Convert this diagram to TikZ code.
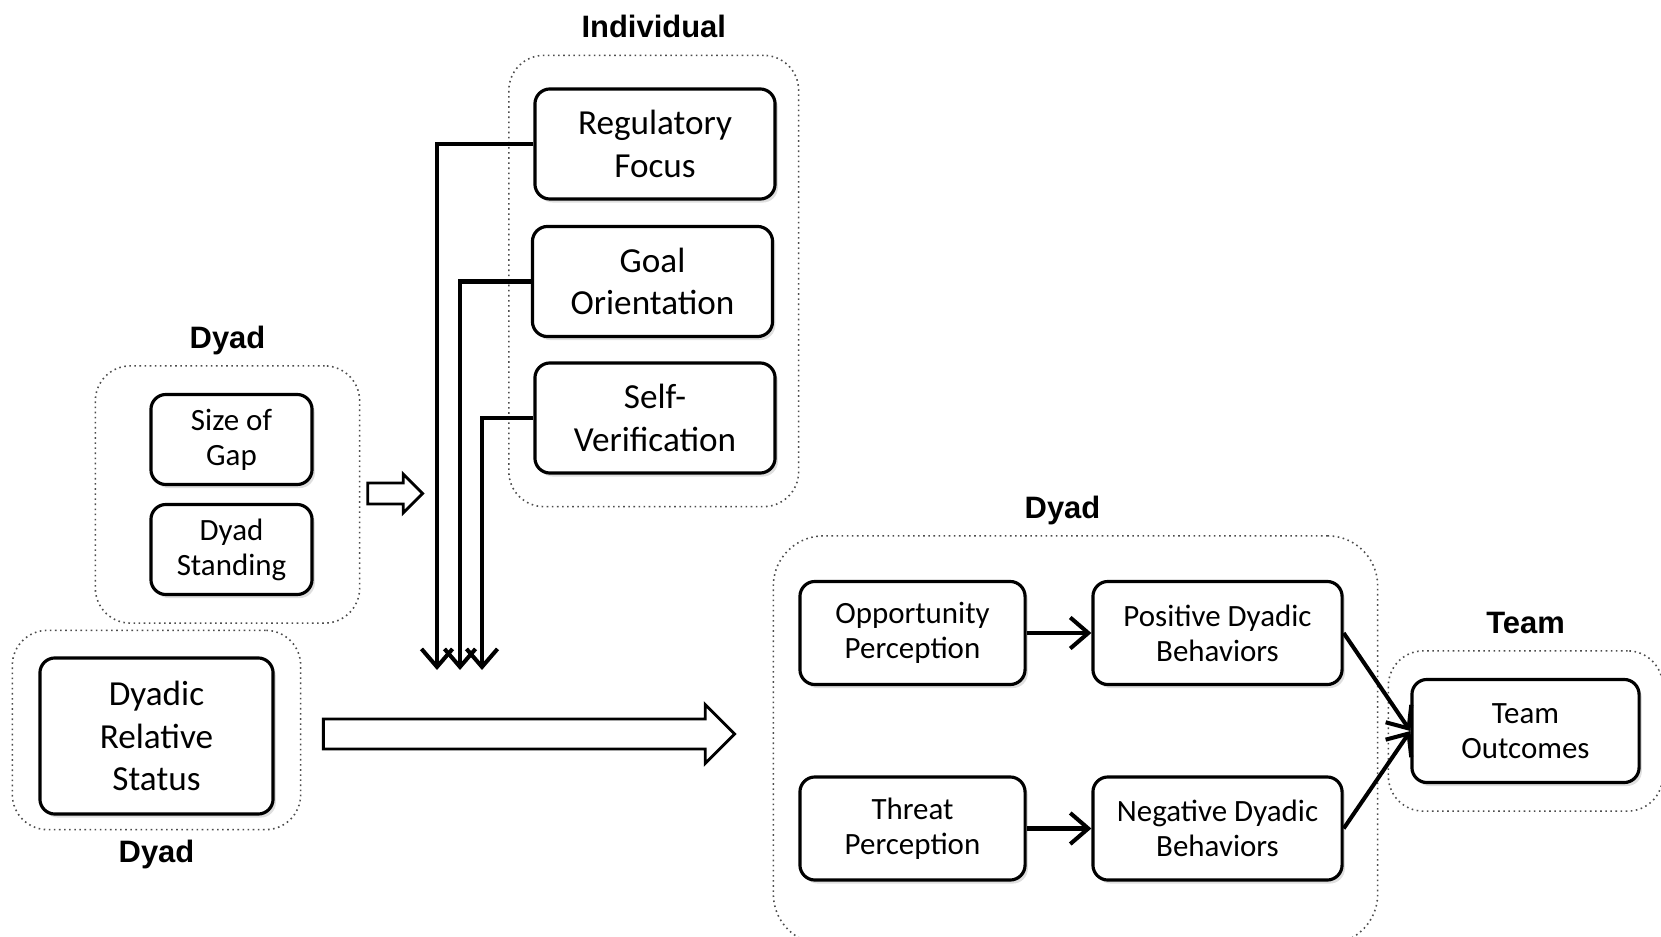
\documentclass[tikz,border=0pt]{standalone}
\usepackage{fontspec}
\setmainfont{Carlito}
\newfontfamily\labelfont{Liberation Sans}
\usetikzlibrary{arrows.meta, positioning, fit, backgrounds, shapes.arrows, shadows}

\begin{document}
\begin{tikzpicture}[x=0.01cm, y=-0.01cm]

\tikzset{
  bigbox/.style={rectangle, rounded corners=0.15cm, draw=black, line width=0.9pt,
    fill=white, align=center, minimum width=2.4cm, minimum height=1.1cm,
    font=\fontsize{10}{12}\selectfont,
    drop shadow={opacity=0.25, shadow xshift=0.8pt, shadow yshift=-1pt}},
  smallbox/.style={bigbox, minimum width=1.61cm, minimum height=0.9cm,
    font=\fontsize{8.8}{10}\selectfont},
  pathbox/.style={bigbox, minimum width=2.25cm, minimum height=1.03cm,
    font=\fontsize{8.8}{10}\selectfont},
  groupbox/.style={rectangle, rounded corners=0.35cm, draw=black!70,
    line width=0.45pt, densely dotted},
  grouplabel/.style={font=\labelfont\bfseries\fontsize{8.8}{10}\selectfont,
    inner sep=0pt, text depth=0pt},
  arrow/.style={-{Straight Barb[length=1.8mm, width=3.1mm]}, line width=1.15pt, black},
  hollowarrow/.style={single arrow, draw=black, line width=0.8pt, fill=white,
    inner xsep=0pt, single arrow tip angle=90}
}

\useasboundingbox (0,0) rectangle (1661,937);

% individual level
\node[bigbox] (regfocus) at (655,144) {Regulatory\\Focus};
\node[bigbox] (goalor) at (652.5,281.5) {Goal\\Orientation};
\node[bigbox] (selfver) at (655,418) {Self-\\Verification};
\begin{scope}[on background layer]
  \node[groupbox, fit=(regfocus)(goalor)(selfver), inner xsep=0.22cm,
    inner ysep=0.32cm] (indgroup) {};
\end{scope}
\node[grouplabel, above=0.16cm of indgroup.north] {Individual};

% dyad (gap)
\node[smallbox] (gapsize) at (231.5,439.5) {Size of\\Gap};
\node[smallbox] (standing) at (231.5,549.5) {Dyad\\Standing};
\begin{scope}[on background layer]
  \node[groupbox, fit=(gapsize)(standing), inner xsep=0.5cm,
    inner ysep=0.27cm, xshift=-0.04cm] (gapgroup) {};
\end{scope}
\node[grouplabel, above=0.16cm of gapgroup.north] {Dyad};

% dyad (status)
\node[bigbox, minimum width=2.33cm, minimum height=1.56cm] (relstatus)
  at (156.5,736) {Dyadic\\Relative\\Status};
\begin{scope}[on background layer]
  \node[groupbox, fit=(relstatus), inner xsep=0.26cm,
    inner ysep=0.2cm, yshift=0.06cm] (statusgroup) {};
\end{scope}
\node[grouplabel, below=0.09cm of statusgroup.south] {Dyad};

% dyad (perceptions and behaviors)
\node[pathbox] (opport) at (912.5,633) {Opportunity\\Perception};
\node[pathbox, minimum width=2.49cm] (posbeh) at (1217.5,633)
  {Positive Dyadic\\Behaviors};
\node[pathbox] (threat) at (912.5,828.5) {Threat\\Perception};
\node[pathbox, minimum width=2.49cm] (negbeh) at (1217.5,828.5)
  {Negative Dyadic\\Behaviors};
\begin{scope}[on background layer]
  \node[groupbox, rounded corners=0.5cm, minimum width=6.04cm,
    minimum height=4.08cm] (behgroup) at (1075.5,740) {};
\end{scope}
\node[grouplabel, above=0.16cm of behgroup.north, xshift=-0.13cm] {Dyad};

% team
\node[pathbox, minimum width=2.27cm] (outcomes) at (1525.5,731)
  {Team\\Outcomes};
\begin{scope}[on background layer]
  \node[groupbox, fit=(outcomes), inner xsep=0.22cm,
    inner ysep=0.27cm] (teamgroup) {};
\end{scope}
\node[grouplabel, above=0.16cm of teamgroup.north] {Team};

% hollow arrows
\node[hollowarrow, minimum height=0.55cm, inner ysep=0.09cm,
  single arrow head extend=0.09cm] (gaparrow) at (390,493.5) {};
\node[hollowarrow, minimum height=4.11cm, inner ysep=0.135cm,
  single arrow head extend=0.145cm] (statusarrow) at (521.5,734) {};

% moderators
\coordinate (regend) at (437,670);
\coordinate (goalend) at (460,670);
\coordinate (selfend) at (482,670);
\draw[arrow] (regfocus.west) -| (regend);
\draw[arrow] (goalor.west)   -| (goalend);
\draw[arrow] (selfver.west)  -| (selfend);

\draw[arrow] (opport) -- (posbeh);
\draw[arrow] (threat) -- (negbeh);
\draw[arrow] (posbeh.east) -- (outcomes.west);
\draw[arrow] (negbeh.east) -- (outcomes.west);

\end{tikzpicture}
\end{document}
